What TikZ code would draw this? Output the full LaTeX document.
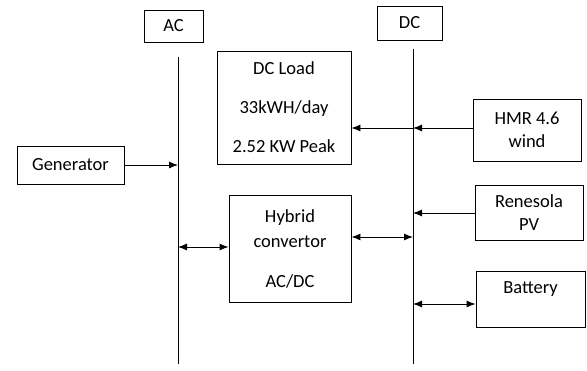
\documentclass[tikz,border=0pt]{standalone}
\usepackage{fontspec}
\setmainfont{Carlito}
\usetikzlibrary{arrows.meta}

\begin{document}
\begin{tikzpicture}[
    x=1pt, y=-1pt,
    line width=0.9pt,
    box/.style={draw, rectangle, inner sep=0pt, align=center,
                font=\fontsize{18.5}{23}\selectfont},
    >={Latex[length=9pt, width=7pt]}
]
\useasboundingbox (0,0) rectangle (587,371);

% Barramentos
\node[box, minimum width=59pt, minimum height=32pt] (ac) at (173.5,26) {AC};
\node[box, minimum width=65pt, minimum height=34pt] (dc) at (409.5,23) {DC};
\coordinate (acTop) at (178,57);
\coordinate (acBot) at (178,364);
\coordinate (dcTop) at (413,49);
\coordinate (dcBot) at (413,364);

% Blocos
\node[box, minimum width=107pt, minimum height=38pt] (gen) at (70.5,165) {Generator};
\node[box, minimum width=134pt, minimum height=113pt,
      font=\fontsize{18.5}{39}\selectfont] (load) at (284,107.5)
      {DC Load\\33kWH/day\\2.52 KW Peak};
\node[box, minimum width=122pt, minimum height=107pt,
      font=\fontsize{18.5}{25}\selectfont] (hyb) at (290,248.5)
      {Hybrid\\convertor\\[15pt]AC/DC};
\node[box, minimum width=108pt, minimum height=62pt] (hmr) at (527,130) {HMR 4.6\\wind};
\node[box, minimum width=108pt, minimum height=55pt] (pv) at (529,212.5) {Renesola\\PV};
\node[box, minimum width=109pt, minimum height=56pt] (bat) at (530.5,299) {Battery\\~};

% Pontos nos barramentos
\coordinate (jGen) at (178,165);
\coordinate (jHybAc) at (178,247);
\coordinate (jHybDc) at (413,237);
\coordinate (jLoad) at (413,128);
\coordinate (jPv) at (413,213);
\coordinate (jBat) at (413,304);

\draw (acTop) -- (acBot);
\draw (dcTop) -- (dcBot);

% --- Setas ---
\draw[->] (gen) -- (jGen);
\draw[<->] (jHybAc) -- (hyb.west |- jHybAc);
\draw[<->] (hyb.east |- jHybDc) -- (jHybDc);
\draw[->] (hmr.west |- jLoad) -- (jLoad);
\draw[->] (jLoad) -- (load.east |- jLoad);
\draw[->] (pv.west |- jPv) -- (jPv);
\draw[<->] (jBat) -- (bat.west |- jBat);

\end{tikzpicture}
\end{document}
